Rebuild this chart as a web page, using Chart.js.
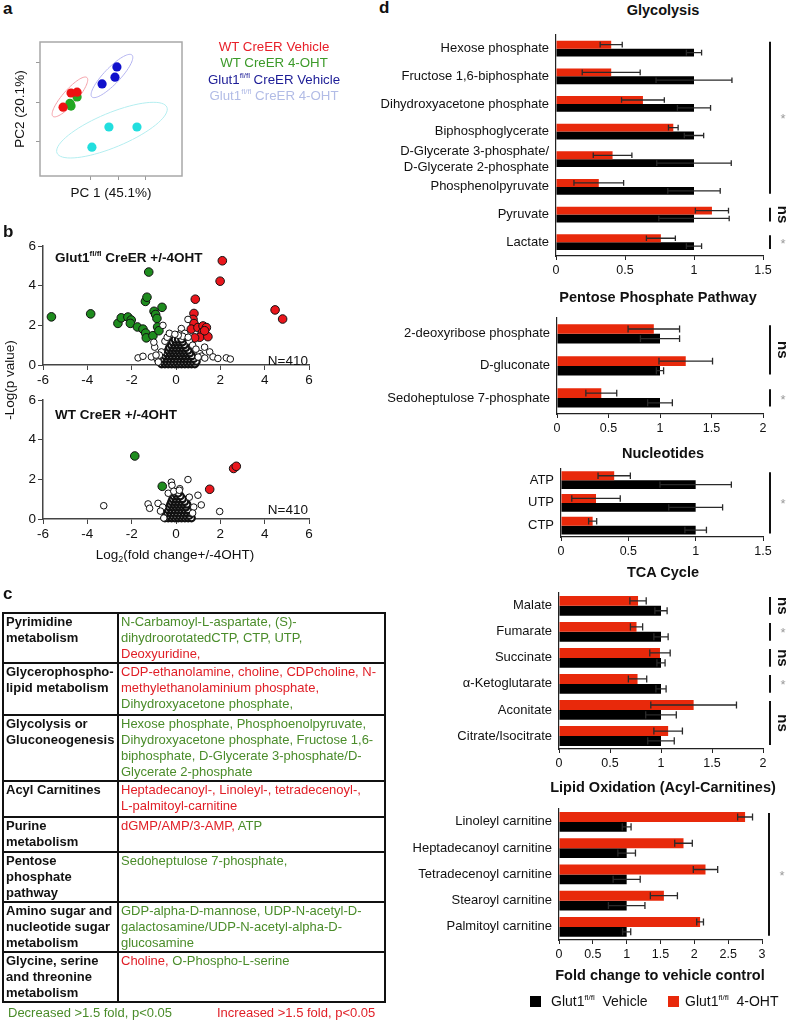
<!DOCTYPE html>
<html>
<head>
<meta charset="utf-8">
<script src="https://cdn.jsdelivr.net/npm/chart.js@4.4.1/dist/chart.umd.min.js"></script>
<style>
body { margin:0; width:791px; height:1021px; position:relative; background:#fff; overflow:hidden;
       font-family:"Liberation Sans", Arial, sans-serif; color:#111; }
canvas { position:absolute; }
.t { position:absolute; white-space:nowrap; line-height:16px; }
.panel { position:absolute; font-weight:bold; font-size:17px; line-height:18px; }
.ttl { position:absolute; width:400px; text-align:center; font-weight:bold; font-size:14.5px; line-height:16px; }
sup { font-size:8px; vertical-align:6px; line-height:0; }
sub { font-size:9px; vertical-align:-3px; line-height:0; }
.g { color:#4a8c2a; }
.r { color:#e01e26; }
#tbl { position:absolute; left:2px; top:612px; width:384px; border-collapse:collapse; table-layout:fixed;
       font-size:13px; line-height:16px; }
#tbl th, #tbl td { border:2px solid #111; vertical-align:top; padding:0 2px; white-space:nowrap; overflow:hidden; }
#tbl th { text-align:left; font-weight:bold; width:109px; }
.sq { position:absolute; width:11px; height:11px; }
</style>
</head>
<body>

<!-- panel a -->
<canvas id="pca" width="200" height="160" style="left:0;top:30px"></canvas>
<!-- panel b -->
<canvas id="volTop" width="330" height="151" style="left:0;top:236px"></canvas>
<canvas id="volWt" width="330" height="151" style="left:0;top:390px"></canvas>
<!-- panel d -->
<canvas id="glyco" width="461" height="266" style="left:330px;top:20px"></canvas>
<canvas id="pentose" width="461" height="141" style="left:330px;top:303px"></canvas>
<canvas id="nucleo" width="461" height="113" style="left:330px;top:454px"></canvas>
<canvas id="tca" width="461" height="201" style="left:330px;top:578px"></canvas>
<canvas id="lipid" width="461" height="176" style="left:330px;top:794px"></canvas>

<div class="panel" style="left:3px;top:0">a</div>
<div class="panel" style="left:3px;top:223px">b</div>
<div class="panel" style="left:3px;top:585px">c</div>
<div class="panel" style="left:379px;top:-1px">d</div>

<!-- panel a texts -->
<div class="t" style="left:174px;top:39px;width:200px;text-align:center;font-size:13.3px;line-height:16.3px">
  <span style="color:#e8202a">WT CreER Vehicle</span><br>
  <span style="color:#3c9a2a">WT CreER 4-OHT</span><br>
  <span style="color:#1c1c96">Glut1<sup>fl/fl</sup> CreER Vehicle</span><br>
  <span style="color:#b2bce6">Glut1<sup>fl/fl</sup> CreER 4-OHT</span>
</div>
<div class="t" style="left:11px;top:185px;width:200px;text-align:center;font-size:13.5px">PC 1 (45.1%)</div>
<div class="t" style="left:-80px;top:101px;width:200px;text-align:center;font-size:13.5px;transform:rotate(-90deg)">PC2 (20.1%)</div>

<!-- panel b texts -->
<div class="t" style="left:55px;top:250px;font-weight:bold;font-size:13.5px">Glut1<sup>fl/fl</sup> CreER +/-4OHT</div>
<div class="t" style="left:55px;top:407px;font-weight:bold;font-size:13.5px">WT CreER +/-4OHT</div>
<div class="t" style="left:208px;top:353px;width:100px;text-align:right;font-size:13.5px">N=410</div>
<div class="t" style="left:208px;top:502px;width:100px;text-align:right;font-size:13.5px">N=410</div>
<div class="t" style="left:-90px;top:372px;width:200px;text-align:center;font-size:13.5px;transform:rotate(-90deg)">-Log(p value)</div>
<div class="t" style="left:75px;top:547px;width:200px;text-align:center;font-size:13.5px">Log<sub>2</sub>(fold change+/-4OHT)</div>

<!-- panel c -->
<table id="tbl">
<tr style="height:49px"><th>Pyrimidine<br>metabolism</th>
<td><span class="g">N-Carbamoyl-L-aspartate, (S)-<br>dihydroorotatedCTP, CTP, UTP,</span><br><span class="r">Deoxyuridine,</span></td></tr>
<tr style="height:52px"><th>Glycerophospho-<br>lipid metabolism</th>
<td><span class="r">CDP-ethanolamine, choline, CDPcholine, N-<br>methylethanolaminium phosphate,</span><br><span class="g">Dihydroxyacetone phosphate,</span></td></tr>
<tr style="height:64px"><th>Glycolysis or<br>Gluconeogenesis</th>
<td><span class="g">Hexose phosphate, Phosphoenolpyruvate,<br>Dihydroxyacetone phosphate, Fructose 1,6-<br>biphosphate, D-Glycerate 3-phosphate/D-<br>Glycerate 2-phosphate</span></td></tr>
<tr style="height:36px"><th>Acyl Carnitines</th>
<td><span class="r">Heptadecanoyl-, Linoleyl-, tetradecenoyl-,<br>L-palmitoyl-carnitine</span></td></tr>
<tr style="height:35px"><th>Purine<br>metabolism</th>
<td><span class="r">dGMP/AMP/3-AMP,</span> <span class="g">ATP</span></td></tr>
<tr style="height:48px"><th>Pentose<br>phosphate<br>pathway</th>
<td><span class="g">Sedoheptulose 7-phosphate,</span></td></tr>
<tr style="height:49px"><th>Amino sugar and<br>nucleotide sugar<br>metabolism</th>
<td><span class="g">GDP-alpha-D-mannose, UDP-N-acetyl-D-<br>galactosamine/UDP-N-acetyl-alpha-D-<br>glucosamine</span></td></tr>
<tr style="height:50px"><th>Glycine, serine<br>and threonine<br>metabolism</th>
<td><span class="r">Choline,</span> <span class="g">O-Phospho-L-serine</span></td></tr>
</table>
<div class="t g" style="left:8px;top:1005px;font-size:13px">Decreased &gt;1.5 fold, p&lt;0.05</div>
<div class="t r" style="left:217px;top:1005px;font-size:13px">Increased &gt;1.5 fold, p&lt;0.05</div>

<!-- panel d texts -->
<div class="ttl" style="left:463px;top:2px">Glycolysis</div>
<div class="ttl" style="left:458px;top:289px">Pentose Phosphate Pathway</div>
<div class="ttl" style="left:463px;top:445px">Nucleotides</div>
<div class="ttl" style="left:463px;top:564px">TCA Cycle</div>
<div class="ttl" style="left:463px;top:779px">Lipid Oxidation (Acyl-Carnitines)</div>
<div class="ttl" style="left:460px;top:967px">Fold change to vehicle control</div>
<div class="sq" style="left:530px;top:996px;background:#000"></div>
<div class="t" style="left:551px;top:993px;font-size:14px">Glut1<sup>fl/fl</sup>&nbsp; Vehicle</div>
<div class="sq" style="left:668px;top:996px;background:#e8290b"></div>
<div class="t" style="left:685px;top:993px;font-size:14px">Glut1<sup>fl/fl</sup>&nbsp; 4-OHT</div>

<script>
// ---- panel a: PCA scores ----
const pcaWtVeh = [[-20, -1.3], [-17.1, 2.3], [-14.9, 2.5]];
const pcaWtOht = [[-17.1, -1.0], [-17.5, -0.3], [-14.9, 1.3]];
const pcaGlutVeh = [[-5.8, 4.6], [-1.1, 6.3], [-0.4, 8.9]];
const pcaGlutOht = [[-3.3, -6.3], [6.9, -6.3], [-9.5, -11.4]];
// confidence ellipses: centre x, centre y, axis vector u, axis vector v (data units)
const ellWtVeh = [-17.5, 1.3, 6.2, 4.9, 1.9, -1.2];
const ellGlutVeh = [-2.2, 6.6, 7.3, 5.3, 2.1, -1.4];
const ellGlutOht = [-2.2, -7.1, 20, 5.8, 2.4, -4.0];

// ---- panel b: volcano plots (log2 fold change, -log p) ----
const volTopOpen = [
  [-1.71, 0.36], [-1.49, 0.44], [-1.11, 0.41], [-0.96, 0.9], [-1.0, 1.15], [-0.66, 0.66], [-0.59, 2.0],
  [0.54, 2.3], [0.24, 1.84], [0.17, 1.56], [1.29, 0.9], [1.52, 0.66], [1.67, 0.41], [1.89, 0.33],
  [2.27, 0.36], [2.45, 0.3], [1.07, 0.58], [-0.85, 0.3], [-0.75, 0.5], [-0.5, 1.2], [-0.4, 1.4],
  [0.6, 1.2], [0.75, 1.0], [0.9, 0.8], [1.15, 0.45], [1.3, 0.35], [-0.3, 1.6], [0.4, 1.6],
  [-0.9, 0.5], [0.3, 1.45], [0.1, 1.5], [-0.05, 1.55], [0.55, 1.4], [-0.8, 0.15], [1.0, 0.4]
];
const volTopCore = [
  [-0.65, 0.05], [-0.5, 0.05], [-0.35, 0.05], [-0.2, 0.05], [-0.05, 0.05], [0.1, 0.05], [0.25, 0.05], [0.4, 0.05], [0.55, 0.05], [0.7, 0.05], [0.85, 0.05],
  [-0.58, 0.18], [-0.43, 0.18], [-0.28, 0.18], [-0.13, 0.18], [0.02, 0.18], [0.17, 0.18], [0.32, 0.18], [0.47, 0.18], [0.62, 0.18], [0.77, 0.18], [0.92, 0.18],
  [-0.55, 0.32], [-0.4, 0.32], [-0.25, 0.32], [-0.1, 0.32], [0.05, 0.32], [0.2, 0.32], [0.35, 0.32], [0.5, 0.32], [0.65, 0.32], [0.8, 0.32],
  [-0.48, 0.46], [-0.33, 0.46], [-0.18, 0.46], [-0.03, 0.46], [0.12, 0.46], [0.27, 0.46], [0.42, 0.46], [0.57, 0.46], [0.72, 0.46],
  [-0.42, 0.6], [-0.27, 0.6], [-0.12, 0.6], [0.03, 0.6], [0.18, 0.6], [0.33, 0.6], [0.48, 0.6], [0.63, 0.6],
  [-0.35, 0.74], [-0.2, 0.74], [-0.05, 0.74], [0.1, 0.74], [0.25, 0.74], [0.4, 0.74], [0.55, 0.74],
  [-0.3, 0.88], [-0.15, 0.88], [0, 0.88], [0.15, 0.88], [0.3, 0.88], [0.45, 0.88],
  [-0.22, 1.02], [-0.07, 1.02], [0.08, 1.02], [0.23, 1.02], [0.38, 1.02],
  [-0.15, 1.16], [0, 1.16], [0.15, 1.16], [0.3, 1.16],
  [-0.05, 1.3], [0.1, 1.3], [0.25, 1.3]
];
const volTopDown = [
  [-5.62, 2.43], [-3.85, 2.58], [-2.62, 2.1], [-2.47, 2.38], [-2.17, 2.42], [-2.02, 2.27], [-2.06, 2.1],
  [-1.74, 1.92], [-1.49, 1.81], [-1.37, 1.61], [-1.34, 1.37], [-1.38, 3.21], [-1.31, 3.42], [-1.23, 4.69],
  [-1.04, 1.48], [-0.99, 2.71], [-0.92, 2.55], [-0.86, 2.35], [-0.63, 2.91], [-0.83, 1.92], [-0.77, 1.73]
];
const volTopUp = [
  [2.09, 5.26], [1.99, 4.23], [0.87, 3.32], [0.81, 2.6], [0.77, 2.3], [0.81, 2.09], [0.69, 1.81],
  [0.99, 1.89], [1.22, 1.97], [1.37, 1.89], [1.19, 1.64], [1.07, 1.4], [1.44, 1.43], [0.84, 1.37],
  [1.29, 1.73], [4.47, 2.78], [4.81, 2.32]
];
const volWtOpen = [
  [-3.26, 0.67], [-1.26, 0.76], [-1.19, 0.54], [-0.81, 0.79], [-0.21, 1.86], [-0.18, 1.7], [0.54, 1.99],
  [0.99, 1.2], [1.14, 0.71], [1.97, 0.38], [0.17, 1.53], [-0.35, 1.3], [0.6, 1.1], [0.8, 0.6], [-0.6, 0.6],
  [-0.7, 0.4], [0.75, 0.3], [-0.55, 0.05], [-0.1, 1.4], [0.15, 1.45]
];
const volWtCore = [
  [-0.5, 0.05], [-0.35, 0.05], [-0.2, 0.05], [-0.05, 0.05], [0.1, 0.05], [0.25, 0.05], [0.4, 0.05], [0.55, 0.05], [0.7, 0.05],
  [-0.45, 0.18], [-0.3, 0.18], [-0.15, 0.18], [0, 0.18], [0.15, 0.18], [0.3, 0.18], [0.45, 0.18], [0.6, 0.18],
  [-0.4, 0.32], [-0.25, 0.32], [-0.1, 0.32], [0.05, 0.32], [0.2, 0.32], [0.35, 0.32], [0.5, 0.32], [0.65, 0.32],
  [-0.35, 0.46], [-0.2, 0.46], [-0.05, 0.46], [0.1, 0.46], [0.25, 0.46], [0.4, 0.46], [0.55, 0.46],
  [-0.3, 0.6], [-0.15, 0.6], [0, 0.6], [0.15, 0.6], [0.3, 0.6], [0.45, 0.6],
  [-0.25, 0.74], [-0.1, 0.74], [0.05, 0.74], [0.2, 0.74], [0.35, 0.74], [0.5, 0.74],
  [-0.2, 0.88], [-0.05, 0.88], [0.1, 0.88], [0.25, 0.88], [0.4, 0.88],
  [-0.15, 1.02], [0, 1.02], [0.15, 1.02], [0.3, 1.02],
  [-0.1, 1.16], [0.05, 1.16], [0.2, 1.16],
  [-0.05, 1.3], [0.1, 1.3]
];
const volWtDown = [[-1.86, 3.18], [-0.62, 1.65]];
const volWtUp = [[1.52, 1.5], [2.6, 2.55], [2.72, 2.66]];

// ---- panel d: fold change to vehicle control ----
const glycoLabels = ['Hexose phosphate', 'Fructose 1,6-biphosphate', 'Dihydroxyacetone phosphate', 'Biphosphoglycerate',
  ['D-Glycerate 3-phosphate/', 'D-Glycerate 2-phosphate'], 'Phosphenolpyruvate', 'Pyruvate', 'Lactate'];
const glycoOht = [0.40, 0.40, 0.63, 0.85, 0.41, 0.31, 1.13, 0.76];
const glycoOhtErr = [0.08, 0.21, 0.155, 0.035, 0.14, 0.18, 0.12, 0.105];
const glycoVeh = [1, 1, 1, 1, 1, 1, 1, 1];
const glycoVehErr = [0.055, 0.275, 0.12, 0.07, 0.27, 0.19, 0.255, 0.055];
const glycoSig = [[0, 5, '*'], [6, 6, 'ns'], [7, 7, '*']];

const pentoseLabels = ['2-deoxyribose phosphate', 'D-gluconate', 'Sedoheptulose 7-phosphate'];
const pentoseOht = [0.94, 1.25, 0.43];
const pentoseOhtErr = [0.25, 0.26, 0.15];
const pentoseVeh = [1, 1, 1];
const pentoseVehErr = [0.19, 0.035, 0.12];
const pentoseSig = [[0, 1, 'ns'], [2, 2, '*']];

const nucleoLabels = ['ATP', 'UTP', 'CTP'];
const nucleoOht = [0.395, 0.26, 0.235];
const nucleoOhtErr = [0.12, 0.18, 0.03];
const nucleoVeh = [1, 1, 1];
const nucleoVehErr = [0.265, 0.2, 0.08];
const nucleoSig = [[0, 2, '*']];

const tcaLabels = ['Malate', 'Fumarate', 'Succinate', '\u03b1-Ketoglutarate', 'Aconitate', 'Citrate/Isocitrate'];
const tcaOht = [0.775, 0.76, 0.99, 0.77, 1.32, 1.07];
const tcaOhtErr = [0.08, 0.06, 0.1, 0.09, 0.42, 0.14];
const tcaVeh = [1, 1, 1, 1, 1, 1];
const tcaVehErr = [0.06, 0.07, 0.04, 0.05, 0.15, 0.13];
const tcaSig = [[0, 0, 'ns'], [1, 1, '*'], [2, 2, 'ns'], [3, 3, '*'], [4, 5, 'ns']];

const lipidLabels = ['Linoleyl carnitine', 'Heptadecanoyl carnitine', 'Tetradecenoyl carnitine', 'Stearoyl carnitine', 'Palmitoyl carnitine'];
const lipidOht = [2.75, 1.84, 2.165, 1.55, 2.085];
const lipidOhtErr = [0.11, 0.13, 0.18, 0.2, 0.05];
const lipidVeh = [1, 1, 1, 1, 1];
const lipidVehErr = [0.065, 0.13, 0.2, 0.27, 0.06];
const lipidSig = [[0, 4, '*']];

Chart.defaults.font.family = '"Liberation Sans", Arial, sans-serif';
Chart.defaults.color = '#111';

const toXY = arr => arr.map(p => ({ x: p[0], y: p[1] }));

// --- plugins ---
const boxPlugin = {
  id: 'box',
  afterDraw(chart) {
    const a = chart.chartArea, ctx = chart.ctx;
    ctx.save();
    ctx.strokeStyle = '#a8a8a8';
    ctx.lineWidth = 1.5;
    ctx.strokeRect(a.left, a.top, a.right - a.left, a.bottom - a.top);
    ctx.restore();
  }
};

const ellipsePlugin = {
  id: 'ellipses',
  beforeDatasetsDraw(chart, args, opts) {
    const xs = chart.scales.x, ys = chart.scales.y, ctx = chart.ctx;
    opts.list.forEach(item => {
      const e = item[0];
      ctx.save();
      ctx.strokeStyle = item[1];
      ctx.lineWidth = 1;
      ctx.beginPath();
      for (let k = 0; k <= 72; k++) {
        const t = k / 72 * Math.PI * 2;
        const px = xs.getPixelForValue(e[0] + e[2] * Math.cos(t) + e[4] * Math.sin(t));
        const py = ys.getPixelForValue(e[1] + e[3] * Math.cos(t) + e[5] * Math.sin(t));
        if (k === 0) ctx.moveTo(px, py); else ctx.lineTo(px, py);
      }
      ctx.stroke();
      ctx.restore();
    });
  }
};

const errorBars = {
  id: 'errorBars',
  afterDatasetsDraw(chart) {
    const ctx = chart.ctx, xs = chart.scales.x;
    chart.data.datasets.forEach((ds, i) => {
      chart.getDatasetMeta(i).data.forEach((bar, j) => {
        const v = ds.data[j], e = ds.errors[j];
        const x1 = xs.getPixelForValue(v - e), x2 = xs.getPixelForValue(v + e);
        const h = bar.height * 0.36;
        ctx.save();
        ctx.strokeStyle = '#2a2a2a';
        ctx.lineWidth = 1.3;
        ctx.beginPath();
        ctx.moveTo(x1, bar.y); ctx.lineTo(x2, bar.y);
        ctx.moveTo(x1, bar.y - h); ctx.lineTo(x1, bar.y + h);
        ctx.moveTo(x2, bar.y - h); ctx.lineTo(x2, bar.y + h);
        ctx.stroke();
        ctx.restore();
      });
    });
  }
};

const sigMarks = {
  id: 'sigMarks',
  afterDraw(chart, args, opts) {
    const ctx = chart.ctx, ys = chart.scales.y, a = chart.chartArea;
    const band = (ys.bottom - ys.top) / chart.data.labels.length;
    const half = band * opts.pct / 2;
    const x = a.right + 7;
    opts.groups.forEach(g => {
      const top = ys.getPixelForValue(g[0]) - half + 1;
      const bot = ys.getPixelForValue(g[1]) + half - 1;
      const mid = (top + bot) / 2;
      ctx.save();
      ctx.strokeStyle = '#111';
      ctx.lineWidth = 2;
      ctx.beginPath(); ctx.moveTo(x, top); ctx.lineTo(x, bot); ctx.stroke();
      ctx.textAlign = 'center';
      ctx.textBaseline = 'middle';
      if (g[2] === '*') {
        ctx.fillStyle = '#9a9a9a';
        ctx.font = '13px "Liberation Sans", Arial';
        ctx.fillText('*', x + 13, mid + 2);
      } else {
        ctx.fillStyle = '#111';
        ctx.font = 'bold 15px "Liberation Sans", Arial';
        ctx.translate(x + 12, mid);
        ctx.rotate(Math.PI / 2);
        ctx.fillText(g[2], 0, 0);
      }
      ctx.restore();
    });
  }
};

// --- panel a ---
new Chart(document.getElementById('pca'), {
  type: 'scatter',
  data: {
    datasets: [
      { data: toXY(pcaWtVeh), backgroundColor: '#ee1111' },
      { data: toXY(pcaWtOht), backgroundColor: '#22a822' },
      { data: toXY(pcaGlutVeh), backgroundColor: '#1010cc' },
      { data: toXY(pcaGlutOht), backgroundColor: '#22dede' }
    ]
  },
  options: {
    responsive: false, animation: false, events: [],
    elements: { point: { radius: 4.6, borderWidth: 0 } },
    layout: { padding: { top: 12, right: 18, left: 0, bottom: 0 } },
    plugins: {
      legend: { display: false }, tooltip: { enabled: false },
      ellipses: { list: [[ellWtVeh, '#f4a0a8'], [ellGlutVeh, '#b4b4f0'], [ellGlutOht, '#b4eef0']] }
    },
    scales: {
      x: {
        min: -28.4, max: 23.3,
        ticks: { display: false, stepSize: 10 },
        afterBuildTicks: s => { s.ticks = s.ticks.filter(t => t.value % 10 === 0); },
        grid: { drawOnChartArea: false, tickLength: 4, color: '#999' },
        border: { display: false },
        afterFit: s => { s.height = 14; }
      },
      y: {
        min: -18.7, max: 15.2,
        ticks: { display: false, stepSize: 10 },
        afterBuildTicks: s => { s.ticks = s.ticks.filter(t => t.value % 10 === 0); },
        grid: { drawOnChartArea: false, tickLength: 4, color: '#999' },
        border: { display: false },
        afterFit: s => { s.width = 40; }
      }
    }
  },
  plugins: [ellipsePlugin, boxPlugin]
});

// --- panel b ---
function volcano(id, open, core, down, up) {
  const axis = {
    ticks: { stepSize: 2, font: { size: 13.5 }, color: '#111', padding: 2 },
    grid: { drawOnChartArea: false, tickLength: 5, color: '#444' },
    border: { color: '#444', width: 1.5 }
  };
  return new Chart(document.getElementById(id), {
    type: 'scatter',
    data: {
      datasets: [
        { data: toXY(open), pointRadius: 3.3, backgroundColor: '#fff', borderColor: '#111', borderWidth: 1, clip: false },
        { data: toXY(core), pointRadius: 3.3, backgroundColor: '#fff', borderColor: '#111', borderWidth: 2.2, clip: false },
        { data: toXY(down), pointRadius: 4.3, backgroundColor: '#1e8c1e', borderColor: '#111', borderWidth: 1, clip: false },
        { data: toXY(up), pointRadius: 4.3, backgroundColor: '#ea161c', borderColor: '#111', borderWidth: 1, clip: false }
      ]
    },
    options: {
      responsive: false, animation: false, events: [],
      layout: { padding: { top: 7, right: 21, left: 0, bottom: 0 } },
      plugins: { legend: { display: false }, tooltip: { enabled: false } },
      scales: {
        x: Object.assign({ min: -6, max: 6, afterFit: s => { s.height = 22; } }, axis),
        y: Object.assign({ min: 0, max: 6, afterFit: s => { s.width = 43; } }, axis)
      }
    }
  });
}
volcano('volTop', volTopOpen, volTopCore, volTopDown, volTopUp);
volcano('volWt', volWtOpen, volWtCore, volWtDown, volWtUp);

// --- panel d ---
function foldChart(id, labels, oht, ohtErr, veh, vehErr, max, pct, yWidth, padRight, sig) {
  return new Chart(document.getElementById(id), {
    type: 'bar',
    data: {
      labels: labels,
      datasets: [
        { label: '4-OHT', data: oht, errors: ohtErr, backgroundColor: '#e8290b' },
        { label: 'Vehicle', data: veh, errors: vehErr, backgroundColor: '#000' }
      ]
    },
    options: {
      indexAxis: 'y',
      responsive: false, animation: false, events: [],
      barPercentage: 1, categoryPercentage: pct,
      layout: { padding: { top: 5, right: padRight, left: 0, bottom: 0 } },
      plugins: { legend: { display: false }, tooltip: { enabled: false }, sigMarks: { groups: sig, pct: pct } },
      scales: {
        x: {
          min: 0, max: max,
          ticks: { stepSize: 0.5, font: { size: 12.5 }, color: '#111', padding: 3, callback: v => String(v) },
          grid: { drawOnChartArea: false, tickLength: 4, color: '#222' },
          border: { color: '#222', width: 1.2 },
          afterFit: s => { s.height = 30; }
        },
        y: {
          ticks: { font: { size: 13 }, color: '#111', padding: 7, autoSkip: false },
          grid: { display: false, drawTicks: false },
          border: { color: '#222', width: 1.2 },
          afterFit: s => { s.width = yWidth; }
        }
      }
    },
    plugins: [errorBars, sigMarks]
  });
}

foldChart('glyco', glycoLabels, glycoOht, glycoOhtErr, glycoVeh, glycoVehErr, 1.5, 0.57, 226, 28, glycoSig);
foldChart('pentose', pentoseLabels, pentoseOht, pentoseOhtErr, pentoseVeh, pentoseVehErr, 2, 0.6, 227, 28, pentoseSig);
foldChart('nucleo', nucleoLabels, nucleoOht, nucleoOhtErr, nucleoVeh, nucleoVehErr, 1.5, 0.78, 231, 28, nucleoSig);
foldChart('tca', tcaLabels, tcaOht, tcaOhtErr, tcaVeh, tcaVehErr, 2, 0.76, 229, 28, tcaSig);
foldChart('lipid', lipidLabels, lipidOht, lipidOhtErr, lipidVeh, lipidVehErr, 3, 0.75, 229, 29, lipidSig);
</script>
</body>
</html>
